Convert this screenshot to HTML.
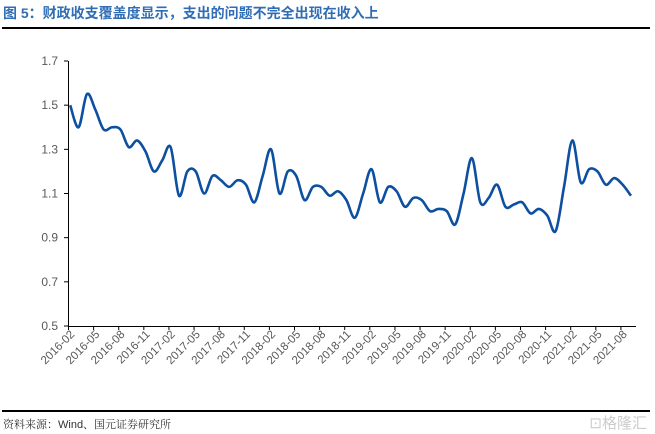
<!DOCTYPE html>
<html><head><meta charset="utf-8"><style>
body{margin:0;background:#fff;width:655px;height:434px;overflow:hidden;position:relative;font-family:"Liberation Sans","Noto Sans CJK SC",sans-serif}
.t{position:absolute;left:3px;top:3px;font-size:14px;font-weight:bold;color:#2f6db5;white-space:nowrap}
.l1{position:absolute;left:2px;right:5px;top:27px;height:2px;background:#000}
.l2{position:absolute;left:2px;right:5px;top:410px;height:2px;background:#000}
.s{position:absolute;left:3px;top:416px;font-size:11px;color:#333;font-family:"Liberation Sans","Noto Serif CJK SC",serif}
.w{position:absolute;right:8px;top:412px;font-size:15px;color:#ccc}
</style></head><body>
<div class="t">图 5：财政收支覆盖度显示，支出的问题不完全出现在收入上</div>
<div class="l1"></div>
<svg id="c" width="655" height="434" style="position:absolute;left:0;top:0" font-family="Liberation Sans, sans-serif"></svg>
<div class="l2"></div>
<div class="s">资料来源：Wind、国元证券研究所</div>
<div class="w">⊡格隆汇</div>
<script>
var v=[1.50,1.40,1.55,1.48,1.39,1.40,1.39,1.31,1.34,1.29,1.20,1.25,1.31,1.09,1.20,1.20,1.10,1.18,1.16,1.13,1.16,1.14,1.06,1.18,1.30,1.10,1.20,1.18,1.07,1.13,1.13,1.09,1.11,1.07,0.99,1.10,1.21,1.06,1.13,1.11,1.04,1.08,1.07,1.02,1.03,1.02,0.96,1.10,1.26,1.06,1.08,1.14,1.04,1.05,1.06,1.01,1.03,1.00,0.93,1.13,1.34,1.15,1.21,1.20,1.14,1.17,1.14,1.09];
var X0=68,cw=8.37,Y=function(a){return 326-(a-0.5)/1.2*265};
var s='';
s+='<line x1="68.5" y1="61" x2="68.5" y2="326" stroke="#000"/>';
s+='<line x1="68" y1="326.5" x2="636" y2="326.5" stroke="#000"/>';
for(var k=0;k<7;k++){var val=0.5+0.2*k,y=Y(val);s+='<line x1="64" y1="'+y+'" x2="68" y2="'+y+'" stroke="#000"/>';s+='<text x="58" y="'+(y+4)+'" font-size="12" fill="#595959" text-anchor="end">'+val.toFixed(1)+'</text>';}
for(var i=0;i<=22;i++){var x=X0+cw*3*i+0.5;s+='<line x1="'+x+'" y1="326" x2="'+x+'" y2="330" stroke="#000"/>';}
var labs=[];for(var y=2016;y<=2021;y++)['02','05','08','11'].forEach(function(m){labs.push(y+'-'+m)});labs=labs.slice(0,23);
labs.forEach(function(l,i){var x=X0+cw*(3*i+0.5)+3,y=335;s+='<text transform="translate('+x+','+y+') rotate(-45)" font-size="11.5" fill="#595959" text-anchor="end">'+l+'</text>';});
var p=v.map(function(a,i){return [X0+cw*(i+0.5)-2,Y(a)]});
var d='M'+p[0][0]+','+p[0][1];
for(var i=0;i<p.length-1;i++){var a=p[Math.max(i-1,0)],b=p[i],c=p[i+1],e=p[Math.min(i+2,p.length-1)];
d+=' C'+(b[0]+(c[0]-a[0])/6)+','+(b[1]+(c[1]-a[1])/6)+' '+(c[0]-(e[0]-b[0])/6)+','+(c[1]-(e[1]-b[1])/6)+' '+c[0]+','+c[1];}
s+='<path d="'+d+'" fill="none" stroke="#0d4fa0" stroke-width="2.6" stroke-linejoin="round"/>';
document.getElementById('c').innerHTML=s;
</script>
</body></html>
